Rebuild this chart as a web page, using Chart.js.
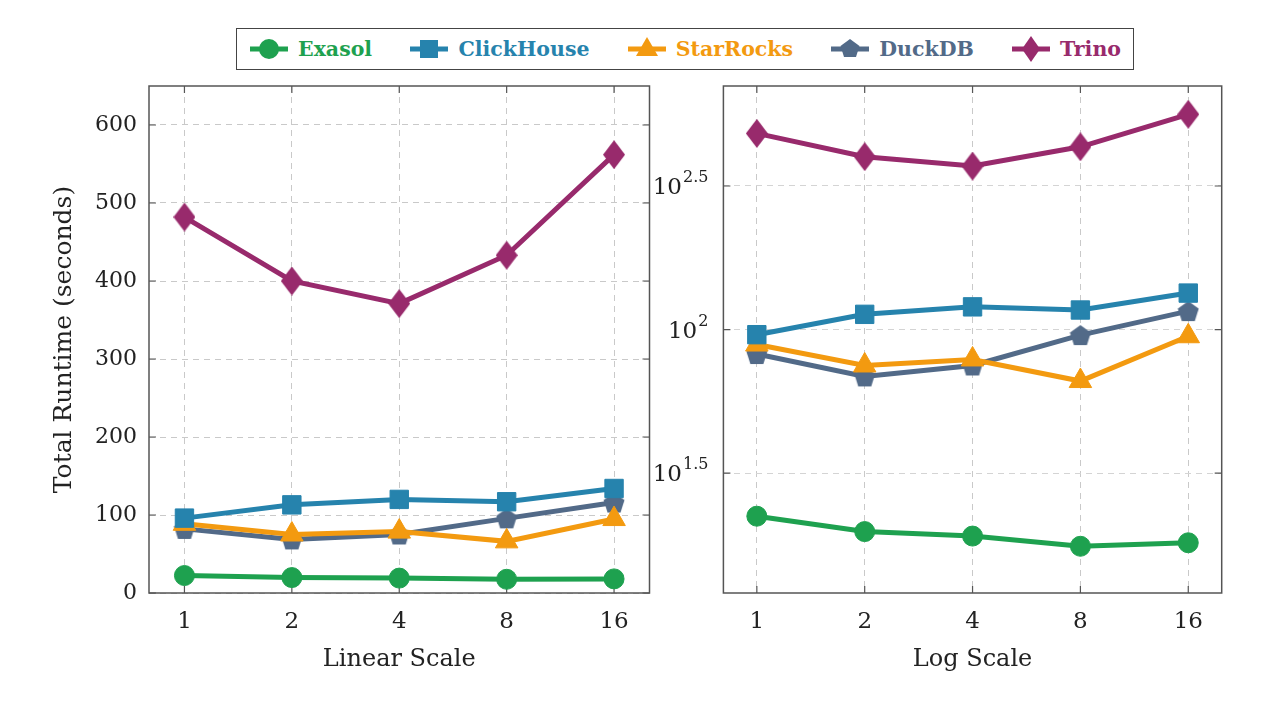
<!DOCTYPE html>
<html>
<head>
<meta charset="utf-8">
<script src="https://cdn.jsdelivr.net/npm/chart.js@4.4.0/dist/chart.umd.min.js"></script>
<style>
  body { margin: 0; background: #fff; width: 1280px; height: 704px; overflow: hidden; position: relative; font-family: "DejaVu Serif", serif; }
  #legend { position: absolute; left: 236px; top: 28px; width: 872px; height: 40px; border: 1.5px solid #444; padding: 0 12px;
            display: flex; align-items: center; justify-content: space-between; }
  .item { display: flex; align-items: center; font-weight: bold; font-size: 20.5px; }
  .item svg { margin-right: 9px; }
  #left { position: absolute; left: 0; top: 0; }
  #right { position: absolute; left: 645px; top: 0; }
</style>
</head>
<body>
<div id="legend"></div>
<canvas id="left" width="660" height="704"></canvas>
<canvas id="right" width="635" height="704"></canvas>
<script>
const threads = ["1", "2", "4", "8", "16"];
const engines = ["Exasol", "ClickHouse", "StarRocks", "DuckDB", "Trino"];
const exasol = [22.4, 19.8, 19.1, 17.6, 18.1];
const clickhouse = [96, 113, 120, 117, 134];
const starrocks = [88.7, 75, 78.7, 66.2, 94.8];
const duckdb = [82.2, 68.7, 75, 95.7, 116];
const trino = [482, 400, 371, 433, 562];
const linearTicks = [0, 100, 200, 300, 400, 500, 600];
const logExponents = [1.5, 2, 2.5];

const colors = ["#1ea14f", "#2683ad", "#f39a10", "#526a88", "#982a6c"];
const shapes = ["circle", "rect", "triangle", "pentagon", "diamond"];
const series = [exasol, clickhouse, starrocks, duckdb, trino];
const FONT = "DejaVu Serif";

// custom marker images for the shapes chart.js doesn't have
function makeShape(kind, color) {
  const c = document.createElement("canvas");
  const ctx = c.getContext("2d");
  if (kind === "pentagon") {
    c.width = 22; c.height = 22;
    ctx.fillStyle = color;
    ctx.beginPath();
    for (let k = 0; k < 5; k++) {
      const a = -Math.PI / 2 + k * 2 * Math.PI / 5;
      const x = 11 + 11 * Math.cos(a), y = 12 + 11 * Math.sin(a);
      k ? ctx.lineTo(x, y) : ctx.moveTo(x, y);
    }
  } else {
    c.width = 22; c.height = 29;
    ctx.fillStyle = color;
    ctx.beginPath();
    ctx.moveTo(11, 0); ctx.lineTo(22, 14.5); ctx.lineTo(11, 29); ctx.lineTo(0, 14.5);
  }
  ctx.closePath();
  ctx.fill();
  return c;
}

function pointStyle(i) {
  const s = shapes[i];
  return (s === "pentagon" || s === "diamond") ? makeShape(s, colors[i]) : s;
}
const pointRadius = [10, 13, 13, 9, 9];

function datasets() {
  return engines.map((name, i) => ({
    label: name,
    data: series[i].map((v, j) => ({ x: j, y: v })),
    borderColor: colors[i],
    backgroundColor: colors[i],
    borderWidth: 5,
    pointStyle: pointStyle(i),
    pointRadius: pointRadius[i],
    pointBorderWidth: 1,
    pointHoverRadius: pointRadius[i],
    clip: false
  }));
}

// frame + inward tick marks, pgfplots style
const framePlugin = {
  id: "frame",
  beforeDatasetsDraw(chart) {
    const { ctx, chartArea: a, scales } = chart;
    ctx.save();
    ctx.strokeStyle = "#555";
    ctx.lineWidth = 1.5;
    ctx.strokeRect(a.left, a.top, a.right - a.left, a.bottom - a.top);
    ctx.lineWidth = 1.2;
    ctx.beginPath();
    scales.x.ticks.forEach(t => {
      const x = scales.x.getPixelForValue(t.value);
      ctx.moveTo(x, a.bottom); ctx.lineTo(x, a.bottom - 7);
      ctx.moveTo(x, a.top); ctx.lineTo(x, a.top + 7);
    });
    scales.y.ticks.forEach(t => {
      const y = scales.y.getPixelForValue(t.value);
      ctx.moveTo(a.left, y); ctx.lineTo(a.left + 7, y);
      ctx.moveTo(a.right, y); ctx.lineTo(a.right - 7, y);
    });
    ctx.stroke();
    ctx.restore();
  }
};

// 10^x labels for the log axis
const powerLabels = {
  id: "powerLabels",
  afterDraw(chart) {
    const { ctx, chartArea: a, scales } = chart;
    ctx.save();
    ctx.fillStyle = "#222";
    ctx.textBaseline = "middle";
    ctx.textAlign = "left";
    logExponents.forEach(e => {
      const y = scales.y.getPixelForValue(Math.pow(10, e));
      const sup = String(e);
      ctx.font = "16px '" + FONT + "'";
      const sw = ctx.measureText(sup).width;
      ctx.font = "23px '" + FONT + "'";
      const bw = ctx.measureText("10").width;
      const right = a.left - 15;
      ctx.fillText("10", right - sw - bw - 1, y + 2);
      ctx.font = "16px '" + FONT + "'";
      ctx.fillText(sup, right - sw, y - 8);
    });
    ctx.restore();
  }
};

function xScale(title, pad) {
  return {
    type: "linear",
    min: -pad, max: 4 + pad,
    afterBuildTicks: s => { s.ticks = threads.map((_, i) => ({ value: i })); },
    afterFit: s => { s.height = 111; },
    ticks: { callback: v => threads[v], color: "#222", font: { family: FONT, size: 23 }, padding: 15, maxRotation: 0 },
    grid: { color: "#c9c9c9", lineWidth: 1, drawTicks: false },
    border: { display: false, dash: [6, 5] },
    title: { display: true, text: title, color: "#222", font: { family: FONT, size: 24 }, padding: { top: 0, bottom: 30 } }
  };
}

const common = {
  responsive: false,
  animation: false,
  devicePixelRatio: 1,
  plugins: { legend: { display: false }, tooltip: { enabled: false } }
};

new Chart(document.getElementById("left"), {
  type: "line",
  data: { datasets: datasets() },
  plugins: [framePlugin],
  options: {
    ...common,
    layout: { autoPadding: false, padding: { top: 86, right: 10.5, left: 0, bottom: 0 } },
    scales: {
      x: xScale("Linear Scale", 0.33),
      y: {
        type: "linear", min: 0, max: 650,
        afterBuildTicks: s => { s.ticks = linearTicks.map(v => ({ value: v })); },
        afterFit: s => { s.width = 149; },
        ticks: { color: "#222", font: { family: FONT, size: 22 }, padding: 12 },
        grid: { color: "#c9c9c9", lineWidth: 1, drawTicks: false },
        border: { display: false, dash: [6, 5] },
        title: { display: true, text: "Total Runtime (seconds)", color: "#222", font: { family: FONT, size: 25 }, padding: { top: 49, bottom: 0 } }
      }
    }
  }
});

new Chart(document.getElementById("right"), {
  type: "line",
  data: { datasets: datasets() },
  plugins: [framePlugin, powerLabels],
  options: {
    ...common,
    layout: { autoPadding: false, padding: { top: 86, right: 58.3, left: 0, bottom: 0 } },
    scales: {
      x: xScale("Log Scale", 0.31),
      y: {
        type: "logarithmic", min: 12.1, max: 705,
        afterBuildTicks: s => { s.ticks = logExponents.map(e => ({ value: Math.pow(10, e) })); },
        afterFit: s => { s.width = 78.4; },
        ticks: { display: false },
        grid: { color: "#d4d4d4", lineWidth: 1, drawTicks: false },
        border: { display: false, dash: [6, 5] }
      }
    }
  }
});

// legend across both panels
function legendIcon(i) {
  const c = colors[i];
  let m = "";
  if (shapes[i] === "circle") m = `<circle cx="20" cy="13" r="10" fill="${c}"/>`;
  if (shapes[i] === "rect") m = `<rect x="11" y="4" width="18" height="18" fill="${c}"/>`;
  if (shapes[i] === "triangle") m = `<polygon points="20,1 31,20 9,20" fill="${c}"/>`;
  if (shapes[i] === "pentagon") m = `<polygon points="20,3 29.5,10 26,21 14,21 10.5,10" fill="${c}"/>`;
  if (shapes[i] === "diamond") m = `<polygon points="20,0 29,13 20,26 11,13" fill="${c}"/>`;
  return `<svg width="40" height="26"><line x1="1" y1="13" x2="39" y2="13" stroke="${c}" stroke-width="5"/>${m}</svg>`;
}
document.getElementById("legend").innerHTML = engines.map((name, i) =>
  `<div class="item" style="color:${colors[i]}">${legendIcon(i)}<span>${name}</span></div>`).join("");
</script>
</body>
</html>
